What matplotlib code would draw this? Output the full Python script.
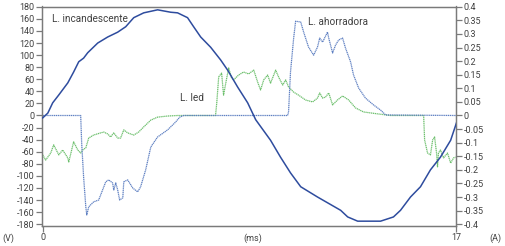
"""Voltage and current waveforms of three lamps (incandescent, LED, CFL)."""

import matplotlib
matplotlib.use('Agg')
import matplotlib.pyplot as plt
import matplotlib as mpl

# voltage, L. incandescente (V)
t_volt = [0.0, 0.21, 0.41, 0.66, 1.03, 1.27, 1.48, 1.68, 1.85, 2.26, 2.67,
          3.08, 3.41, 3.74, 4.15, 4.72, 5.26, 5.54, 5.95, 6.20, 6.49, 6.90,
          7.31, 7.60, 8.01, 8.42, 8.75, 9.36, 9.77, 10.18, 10.60, 11.29,
          12.24, 12.53, 12.94, 13.88, 14.41, 14.70, 15.11, 15.52, 15.93,
          16.34, 16.76, 17.0]
volt = [-4, 4, 21, 34, 54, 72, 89, 95, 104, 120, 130,
        138, 147, 162, 170, 175, 171, 170, 162, 147, 130, 113,
        92, 75, 47, 21, -7, -41, -69, -95, -118, -135,
        -157, -168, -175, -175, -168, -157, -135, -118, -90,
        -69, -41, -12]

# current, L. ahorradora (A)
t_cfl = [0.0, 1.56, 1.60, 1.68, 1.77, 1.81, 1.89, 2.09, 2.30, 2.46, 2.59,
         2.71, 2.87, 2.92, 3.00, 3.08, 3.16, 3.29, 3.33, 3.49, 3.70, 3.90,
         4.02, 4.23, 4.44, 4.72, 5.13, 5.46, 5.63, 5.79, 10.06, 10.10,
         10.18, 10.31, 10.39, 10.60, 10.72, 10.92, 11.13, 11.29, 11.38,
         11.50, 11.58, 11.70, 11.75, 11.91, 12.03, 12.16, 12.32, 12.44,
         12.65, 12.77, 12.98, 13.26, 13.59, 13.88, 14.09, 17.0]
i_cfl = [0, 0, -0.101, -0.226, -0.336, -0.366, -0.336, -0.318, -0.311,
         -0.274, -0.244, -0.237, -0.248, -0.274, -0.248, -0.274, -0.311,
         -0.303, -0.244, -0.237, -0.267, -0.281, -0.263, -0.200, -0.116,
         -0.079, -0.053, -0.024, -0.006, 0, 0, 0.013,
         0.160, 0.285, 0.347, 0.344, 0.307, 0.252, 0.222, 0.252, 0.285,
         0.270, 0.285, 0.307, 0.285, 0.230, 0.259, 0.278, 0.285, 0.248,
         0.197, 0.149, 0.101, 0.064, 0.039, 0.020, 0.002, 0]

# current, L. led (A)
t_led = [0.0, 0.12, 0.33, 0.45, 0.66, 0.82, 1.03, 1.07, 1.27, 1.44, 1.56,
         1.64, 1.77, 1.89, 2.09, 2.38, 2.51, 2.67, 2.79, 2.92, 3.08, 3.20,
         3.33, 3.49, 3.74, 3.94, 4.15, 4.44, 4.72, 5.13, 5.54, 7.10, 7.15,
         7.23, 7.35, 7.43, 7.52, 7.64, 7.76, 7.84, 8.05, 8.25, 8.46, 8.67,
         8.83, 8.95, 9.08, 9.24, 9.36, 9.57, 9.69, 9.86, 9.98, 10.10, 10.31,
         10.51, 10.80, 11.09, 11.29, 11.38, 11.50, 11.62, 11.75, 11.91,
         12.11, 12.32, 12.57, 12.85, 13.18, 13.76, 14.29, 15.65, 15.69,
         15.81, 15.93, 16.02, 16.10, 16.18, 16.22, 16.26, 16.34, 16.47,
         16.63, 16.76, 16.88, 16.96]
i_led = [-0.145, -0.164, -0.138, -0.108, -0.145, -0.127, -0.156, -0.171,
         -0.097, -0.127, -0.138, -0.127, -0.119, -0.083, -0.072, -0.064,
         -0.061, -0.068, -0.079, -0.064, -0.083, -0.083, -0.053, -0.064,
         -0.072, -0.061, -0.042, -0.017, -0.006, -0.002, 0, 0, 0.046,
         0.142, 0.156, 0.075, 0.119, 0.175, 0.138, 0.131, 0.149, 0.160,
         0.153, 0.167, 0.123, 0.094, 0.131, 0.149, 0.119, 0.167, 0.142,
         0.112, 0.131, 0.105, 0.086, 0.075, 0.057, 0.050, 0.064, 0.083,
         0.064, 0.068, 0.083, 0.039, 0.057, 0.072, 0.057, 0.028, 0.013,
         0.006, 0, 0, -0.090, -0.138, -0.145, -0.090, -0.079, -0.138,
         -0.189, -0.138, -0.127, -0.156, -0.138, -0.175, -0.156, -0.153]

v_ticks = list(range(-180, 181, 20))
a_ticks = [-0.4, -0.35, -0.3, -0.25, -0.2, -0.15, -0.1, -0.05, 0,
           0.05, 0.1, 0.15, 0.2, 0.25, 0.3, 0.35, 0.4]

txt_color = '#404040'
spine_color = '#7a7a7a'
mpl.rcParams['font.family'] = ['Liberation Sans Narrow', 'Roboto', 'DejaVu Sans']
mpl.rcParams['font.size'] = 6.5
mpl.rcParams['text.color'] = txt_color

fig = plt.figure(figsize=(5.05, 2.46), dpi=100)
ax = fig.add_axes([41.5/505, 1-226/246, (456.5-41.5)/505, (226-6.5)/246])
ax2 = ax.twinx()

v_lim = (-183, 180.5)
ax.set_ylim(*v_lim)
ax2.set_ylim(v_lim[0]/450, v_lim[1]/450)
ax.set_xlim(-0.05, 17.0)

ax2.plot(t_led, i_led, color='#6cbf6c', lw=0.9, ls=(0, (1, 0.5)))
ax2.plot(t_cfl, i_cfl, color='#5f80c2', lw=0.9, ls=(0, (1, 0.5)))
ax.plot(t_volt, volt, color='#2e4c9e', lw=1.1, zorder=5)
ax.set_zorder(ax2.get_zorder() + 1)
ax.patch.set_visible(False)

for a in (ax, ax2):
    for s in a.spines.values():
        s.set_color(spine_color)
        s.set_linewidth(0.9)
    a.tick_params(colors=spine_color, labelcolor=txt_color, length=4,
                  width=0.9, pad=1, labelsize=6.5)

ax.set_yticks(v_ticks)
ax.set_yticklabels([str(v) for v in v_ticks])
ax2.set_yticks(a_ticks)
ax2.set_yticklabels([('%g' % a) for a in a_ticks])
ax.set_xticks([0, 17])
ax.set_xticklabels(['0', '17'])

ax.text(0.4, 160, 'L. incandescente', fontsize=7.2, va='center')
ax.text(5.65, 29, 'L. led', fontsize=7.2, va='center')
ax.text(10.9, 155, 'L. ahorradora', fontsize=7.2, va='center')

fig.text(8/505, 1-238/246, '(V)', ha='center', va='center', fontsize=6.5)
fig.text(253/505, 1-238/246, '(ms)', ha='center', va='center', fontsize=6.5)
fig.text(495/505, 1-238/246, '(A)', ha='center', va='center', fontsize=6.5)

fig.savefig('out.png', dpi=100)
